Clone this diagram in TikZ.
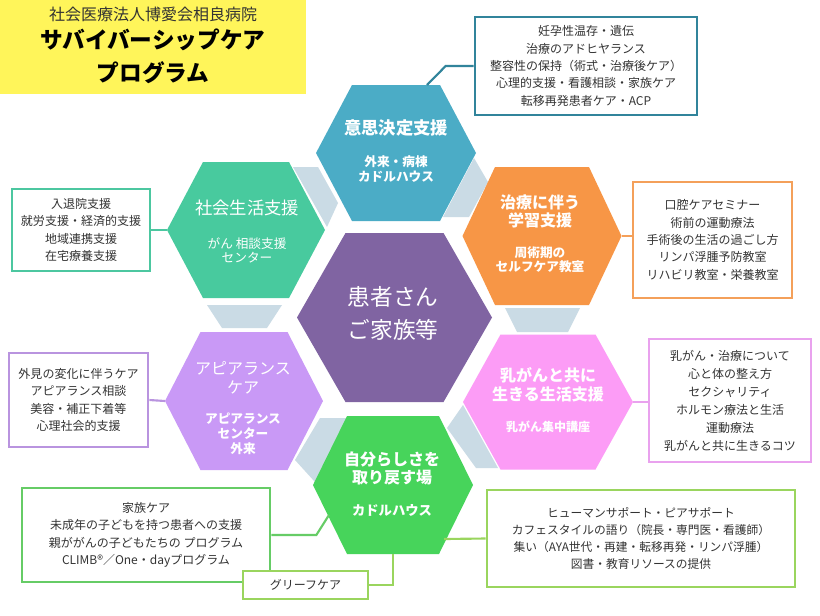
\documentclass[tikz,border=0pt]{standalone}
\usepackage{fontspec}
\setmainfont{Noto Sans CJK JP}
\usetikzlibrary{calc}
\definecolor{cBlue}{HTML}{4BACC6}
\definecolor{cTeal}{HTML}{48CA9E}
\definecolor{cOrange}{HTML}{F79646}
\definecolor{cPurple}{HTML}{8064A2}
\definecolor{cLav}{HTML}{C999F6}
\definecolor{cPink}{HTML}{FC9CF6}
\definecolor{cGreen}{HTML}{47D45B}
\definecolor{cLink}{HTML}{CADBE5}
\definecolor{cYellow}{HTML}{FFF55A}
\definecolor{cTxt}{HTML}{333333}
\definecolor{bTop}{HTML}{31849B}
\definecolor{bTeal}{HTML}{4CC7A0}
\definecolor{bOrange}{HTML}{F4A05A}
\definecolor{bLav}{HTML}{B994DF}
\definecolor{bPink}{HTML}{E9A2EE}
\definecolor{bGreen}{HTML}{66CC66}
\definecolor{bLime}{HTML}{9AD55E}
\newcommand\hexshape[5]{\fill[#5] (#1) ++(-#2,0) -- ++({#2-#4},-#3) -- ++({2*#4},0) -- ++({#2-#4},#3) -- ++({#4-#2},#3) -- ++({-2*#4},0) -- cycle;}
\begin{document}
\begin{tikzpicture}[x=0.75pt,y=-0.75pt,
  infobox/.style={draw, line width=2pt, fill=white, text=cTxt, align=center, inner sep=0pt, font=\fontsize{9}{13}\selectfont},
  link/.style={line width=1.6pt},
  hbig/.style={text=white, align=center, inner sep=0pt},
  hsmall/.style={text=white, align=center, inner sep=0pt, font=\bfseries\fontsize{9.5}{11.25}\selectfont},
  band/.style={fill=cLink}]
\useasboundingbox (0,0) rectangle (820,615);
\fill[white] (0,0) rectangle (820,615);

% title
\fill[cYellow] (0,0) rectangle (306,94);
\node[text=cTxt, font=\fontsize{12}{14}\selectfont, inner sep=0pt] (t1) at (153,14) {社会医療法人博愛会相良病院};
\node[text=black, font=\bfseries\fontsize{17}{25}\selectfont, align=center, inner sep=0pt] (t2) at (153,56) {サバイバーシップケア\\プログラム};

% hex centres
\coordinate (hB) at (396,153);
\coordinate (hT) at (246,230);
\coordinate (hO) at (542,236);
\coordinate (hL) at (244,401);
\coordinate (hP) at (548,402);
\coordinate (hG) at (393,485);
\coordinate (hC) at (394.5,317.5);

% connecting bands
\fill[band] (293,167) -- (318,167) -- (338,203) -- (327,227) -- cycle;
\fill[band] (474,158) -- (488,182) -- (469,217) -- (443,217) -- cycle;
\fill[band] (505,308) -- (580,308) -- (568,332) -- (517,332) -- cycle;
\fill[band] (463,405) -- (447,428) -- (476,468) -- (498,468) -- cycle;
\fill[band] (320,418) -- (347,418) -- (315,482) -- (295,460) -- cycle;
\fill[band] (207,305) -- (282,305) -- (267,328) -- (222,328) -- cycle;

% hexagons
\hexshape{hB}{80}{68}{44}{cBlue}
\hexshape{hT}{79}{68}{43}{cTeal}
\hexshape{hO}{79.5}{69}{47}{cOrange}
\hexshape{hL}{79}{69}{43.5}{cLav}
\hexshape{hP}{85}{67.5}{47.5}{cPink}
\hexshape{hG}{80}{69}{46}{cGreen}
\hexshape{hC}{97.5}{84.5}{49}{cPurple}

% hex texts
\node[hbig, font=\bfseries\fontsize{13}{15}\selectfont] (xB1) at (396,128) {意思決定支援};
\node[hsmall] (xB2) at (396,169.5) {外来・病棟\\カドルハウス};
\node[hbig, font=\fontsize{13}{15}\selectfont] (xT1) at (247,208) {社会生活支援};
\node[hsmall, font=\fontsize{9.5}{10.5}\selectfont] (xT2) at (247,250) {がん 相談支援\\センター};
\node[hbig, font=\bfseries\fontsize{12}{13.5}\selectfont] (xO1) at (540,211) {治療に伴う\\学習支援};
\node[hsmall, font=\bfseries\fontsize{9.5}{10.5}\selectfont] (xO2) at (540,260) {周術期の\\セルフケア教室};
\node[hbig, font=\fontsize{17}{24.75}\selectfont] (xC) at (393,313) {患者さん\\ご家族等};
\node[hbig, font=\fontsize{12}{14.25}\selectfont] (xL1) at (243,377.5) {アピアランス\\ケア};
\node[hsmall] (xL2) at (243,434) {アピアランス\\センター\\外来};
\node[hbig, font=\bfseries\fontsize{12}{14.25}\selectfont] (xP1) at (548,384.5) {乳がんと共に\\生きる生活支援};
\node[hsmall, font=\bfseries\fontsize{9}{11}\selectfont] (xP2) at (548,427) {乳がん集中講座};
\node[hbig, font=\bfseries\fontsize{12}{13}\selectfont] (xG1) at (392,468.5) {自分らしさを\\取り戻す場};
\node[hsmall, font=\bfseries\fontsize{10}{12}\selectfont] (xG2) at (392,510) {カドルハウス};

% info boxes
\node[infobox, draw=bTop, minimum width=166.5pt, minimum height=73.5pt] (bA) at (586,66)
 {妊孕性温存・遺伝\\治療のアドヒヤランス\\整容性の保持（術式・治療後ケア）\\心理的支援・看護相談・家族ケア\\転移再発患者ケア・ACP};
\node[infobox, draw=bTeal, minimum width=103.5pt, minimum height=61.5pt] (bT) at (81,230)
 {入退院支援\\就労支援・経済的支援\\地域連携支援\\在宅療養支援};
\node[infobox, draw=bOrange, minimum width=119.25pt, minimum height=87pt] (bO) at (712.5,240)
 {口腔ケアセミナー\\術前の運動療法\\手術後の生活の過ごし方\\リンパ浮腫予防教室\\リハビリ教室・栄養教室};
\node[infobox, draw=bLav, minimum width=104.25pt, minimum height=70.5pt] (bL) at (78.5,400)
 {外見の変化に伴うケア\\アピアランス相談\\美容・補正下着等\\心理社会的支援};
\node[infobox, draw=bPink, minimum width=121.5pt, minimum height=92.25pt, font=\fontsize{9}{13.5}\selectfont] (bP) at (730,400.5)
 {乳がん・治療について\\心と体の整え方\\セクシャリティ\\ホルモン療法と生活\\運動療法\\乳がんと共に生きるコツ};
\node[infobox, draw=bGreen, minimum width=186pt, minimum height=70.5pt] (bGL) at (146,535)
 {家族ケア\\未成年の子どもを持つ患者への支援\\親ががんの子どもたちの プログラム\\CLIMB®／One・dayプログラム};
\node[infobox, draw=bLime, minimum width=93.75pt, minimum height=21pt] (bGr) at (305.5,585) {グリーフケア};
\node[infobox, draw=bLime, minimum width=231pt, minimum height=72.75pt, font=\fontsize{8.8}{12.75}\selectfont] (bGR) at (641,538.5)
 {ヒューマンサポート・ピアサポート\\カフェスタイルの語り（院長・専門医・看護師）\\集い（AYA世代・再建・転移再発・リンパ浮腫）\\図書・教育リソースの提供};

% connectors
\draw[link, bTop] ($(hB)+(31,-68)$) -- ($(bA.west)+(-28,0)$) -- (bA.west);
\draw[link, bTeal] (bT.east) -- ($(hT)+(-79,0)$);
\draw[link, bOrange] ($(hO)+(79.5,0)$) -- (hO -| bO.west);
\draw[link, bLav] (bL.east) -- ($(hL)+(-79,0)$);
\draw[link, bPink] ($(hP)+(85,0)$) -- (hP -| bP.west);
\draw[link, bGreen] (bGL.east) -- ++(45,0) -- ($(hG)+(-64,30)$);
\draw[link, bLime] (bGr.east) -- (bGr.east -| hG) -- ($(hG)+(0,69)$);
\draw[link, bLime] ($(hG)+(51,54)$) -- (bGR.west);
\end{tikzpicture}
\end{document}
